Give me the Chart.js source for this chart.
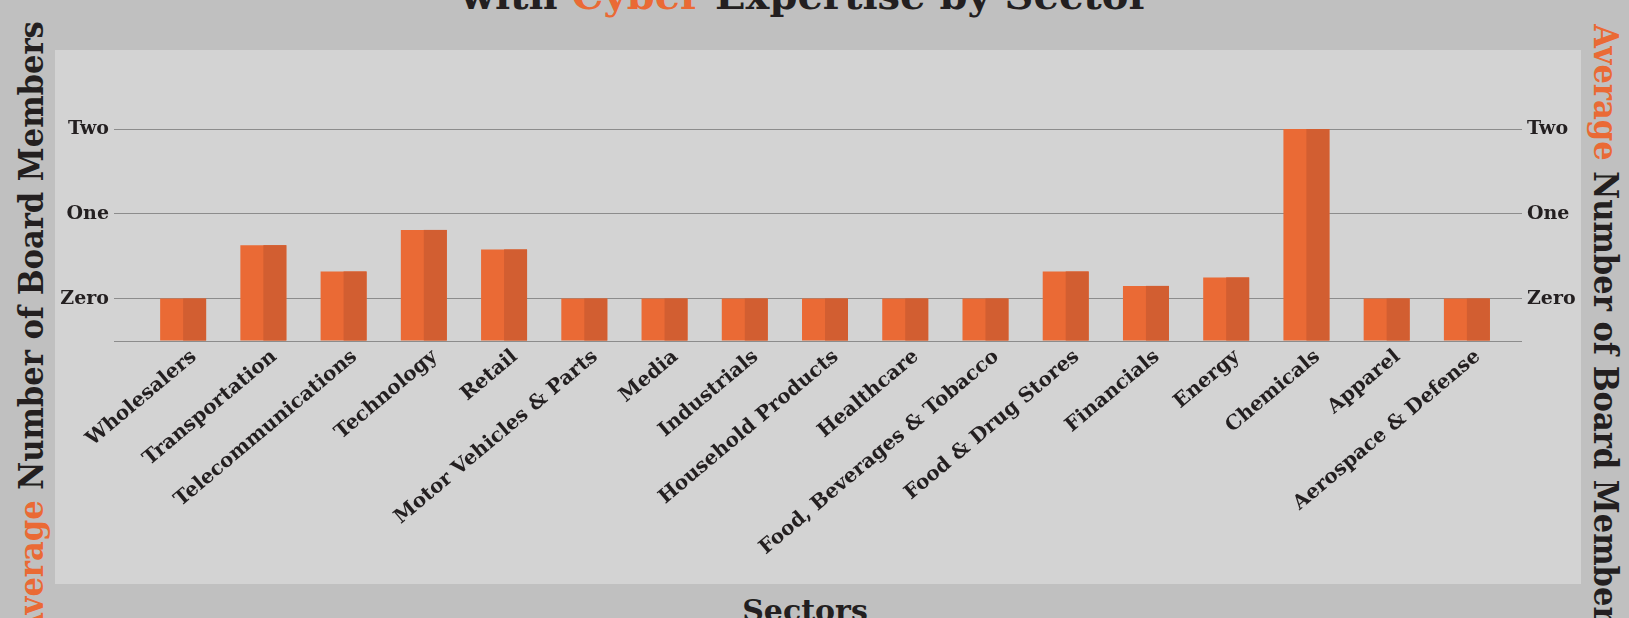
<!DOCTYPE html>
<html>
<head>
<meta charset="utf-8">
<script src="https://cdn.jsdelivr.net/npm/chart.js@4"></script>
<style>
  html, body {
    margin: 0;
    padding: 0;
    width: 1629px;
    height: 618px;
    overflow: hidden;
    background: #c0c0c0;
    font-family: 'DejaVu Serif', serif;
    font-weight: bold;
    color: #231f20;
  }
  .orange { color: #ea6a35; }
  .txt {
    position: absolute;
    white-space: nowrap;
    line-height: 1;
  }
  .cond {
    font-family: 'DejaVu Serif Condensed', 'DejaVu Serif', serif;
    font-stretch: condensed;
  }
  #title {
    left: 805px;
    top: -25px;
    font-size: 40px;
    transform: translateX(-50%);
  }
  #y-title-left {
    left: 31px;
    top: 329px;
    font-size: 34px;
    transform: translate(-50%, -50%) rotate(-90deg);
  }
  #y-title-right {
    left: 1606px;
    top: 332px;
    font-size: 34px;
    transform: translate(-50%, -50%) rotate(90deg);
  }
  #x-title {
    left: 805px;
    top: 596px;
    font-size: 30px;
    transform: translateX(-50%);
  }
  #panel {
    position: absolute;
    left: 55px;
    top: 50px;
    width: 1526px;
    height: 534px;
    background: #d3d3d3;
  }
</style>
</head>
<body>
<div id="title" class="txt">with <span class="orange">Cyber</span> Expertise by Sector</div>
<div id="y-title-left" class="txt cond"><span class="orange">Average</span> Number of Board Members</div>
<div id="y-title-right" class="txt cond"><span class="orange">Average</span> Number of Board Members</div>
<div id="x-title" class="txt">Sectors</div>
<div id="panel"><canvas id="chart"></canvas></div>

<script>
const sectors = [
  'Wholesalers', 'Transportation', 'Telecommunications', 'Technology', 'Retail',
  'Motor Vehicles & Parts', 'Media', 'Industrials', 'Household Products', 'Healthcare',
  'Food, Beverages & Tobacco', 'Food & Drug Stores', 'Financials', 'Energy', 'Chemicals',
  'Apparel', 'Aerospace & Defense'
];
const avgCyberMembers = [
  0, 0.63, 0.32, 0.81, 0.58,
  0, 0, 0, 0, 0,
  0, 0.32, 0.15, 0.25, 2.0,
  0, 0
];
const tickNames = { 0: 'Zero', 1: 'One', 2: 'Two' };

const lightOrange = '#ea6a35';
const darkOrange = '#d25e31';
const gridGray = '#8c8c8c';
const textColor = '#231f20';
const fontFamily = "'DejaVu Serif', serif";

// right half of each bar is a shade darker
const shadePlugin = {
  id: 'shade',
  afterDatasetsDraw(chart) {
    const ctx = chart.ctx;
    const meta = chart.getDatasetMeta(0);
    ctx.save();
    ctx.fillStyle = darkOrange;
    for (const bar of meta.data) {
      const { x, y, base, width } = bar.getProps(['x', 'y', 'base', 'width'], true);
      ctx.fillRect(x, y, width / 2, base - y);
    }
    ctx.restore();
  }
};

function gridColor(ctx) {
  const v = ctx.tick ? ctx.tick.value : null;
  return (v === -0.5 || v in tickNames) ? gridGray : 'rgba(0,0,0,0)';
}

function tickLabel(value) {
  return tickNames[value] || '';
}

const yTicks = {
  stepSize: 0.5,
  padding: 5,
  color: textColor,
  font: { family: fontFamily, weight: 'bold', size: 19 },
  callback: tickLabel
};

new Chart(document.getElementById('chart'), {
  type: 'bar',
  data: {
    labels: sectors,
    datasets: [{
      data: avgCyberMembers,
      backgroundColor: lightOrange,
      base: -0.5,
      categoryPercentage: 0.573,
      barPercentage: 1.0
    }]
  },
  options: {
    responsive: true,
    maintainAspectRatio: false,
    animation: false,
    layout: { padding: { top: 79, bottom: 0, left: 0, right: 0 } },
    plugins: {
      legend: { display: false },
      tooltip: { enabled: false }
    },
    scales: {
      x: {
        grid: { display: false, drawTicks: false },
        border: { display: false },
        ticks: {
          autoSkip: false,
          minRotation: 40,
          maxRotation: 40,
          padding: 4,
          labelOffset: 11,
          color: textColor,
          font: { family: fontFamily, weight: 'bold', size: 20 }
        },
        afterFit(scale) { scale.height = 243; }
      },
      y: {
        position: 'left',
        min: -0.5,
        max: 2,
        border: { display: false },
        grid: { color: gridColor, tickLength: 29, lineWidth: 1 },
        ticks: yTicks,
        afterFit(scale) { scale.width = 88; }
      },
      y2: {
        position: 'right',
        min: -0.5,
        max: 2,
        border: { display: false },
        grid: { color: gridColor, tickLength: 15, drawOnChartArea: false },
        ticks: yTicks,
        afterFit(scale) { scale.width = 74; }
      }
    }
  },
  plugins: [shadePlugin]
});
</script>
</body>
</html>
